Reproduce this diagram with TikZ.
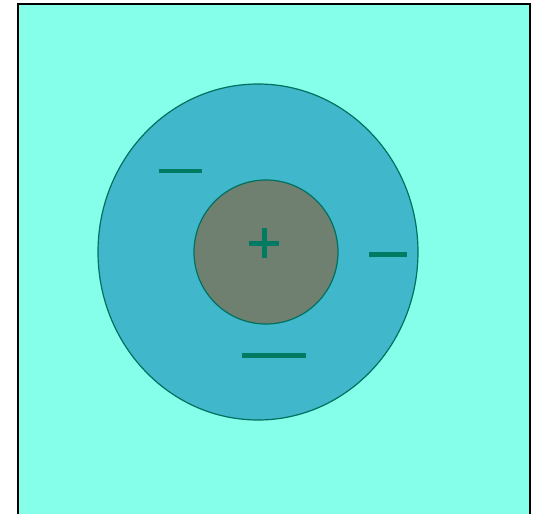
\documentclass[tikz,border=0pt]{standalone}
\usepackage{tikz}
\definecolor{bgaqua}{HTML}{86FFEA}
\definecolor{shellblue}{HTML}{40B7CB}
\definecolor{coregray}{HTML}{708070}
\definecolor{chargeteal}{HTML}{007A60}
\definecolor{edgeteal}{HTML}{00705F}

\begin{document}
\begin{tikzpicture}[x=1pt,y=-1pt]
  \useasboundingbox (0,0) rectangle (539,514);
  % background box, open at the bottom edge
  \fill[bgaqua] (18,4) rectangle (530,520);
  \draw[black,line width=2pt] (18,520) -- (18,4) -- (530,4) -- (530,520);
  % outer shell and inner core
  \draw[edgeteal,fill=shellblue,line width=1.2pt] (258,252) ellipse [x radius=160,y radius=168];
  \draw[edgeteal,fill=coregray,line width=1.2pt] (266,252) circle (72);
  % charges
  \draw[chargeteal,line width=5pt] (249,243) -- (279,243);
  \draw[chargeteal,line width=5pt] (264,228) -- (264,258);
  \draw[chargeteal,line width=3.6pt] (159,171) -- (202,171);
  \draw[chargeteal,line width=5pt] (369,254.5) -- (407,254.5);
  \draw[chargeteal,line width=5.5pt] (242,355.5) -- (306,355.5);
\end{tikzpicture}
\end{document}
